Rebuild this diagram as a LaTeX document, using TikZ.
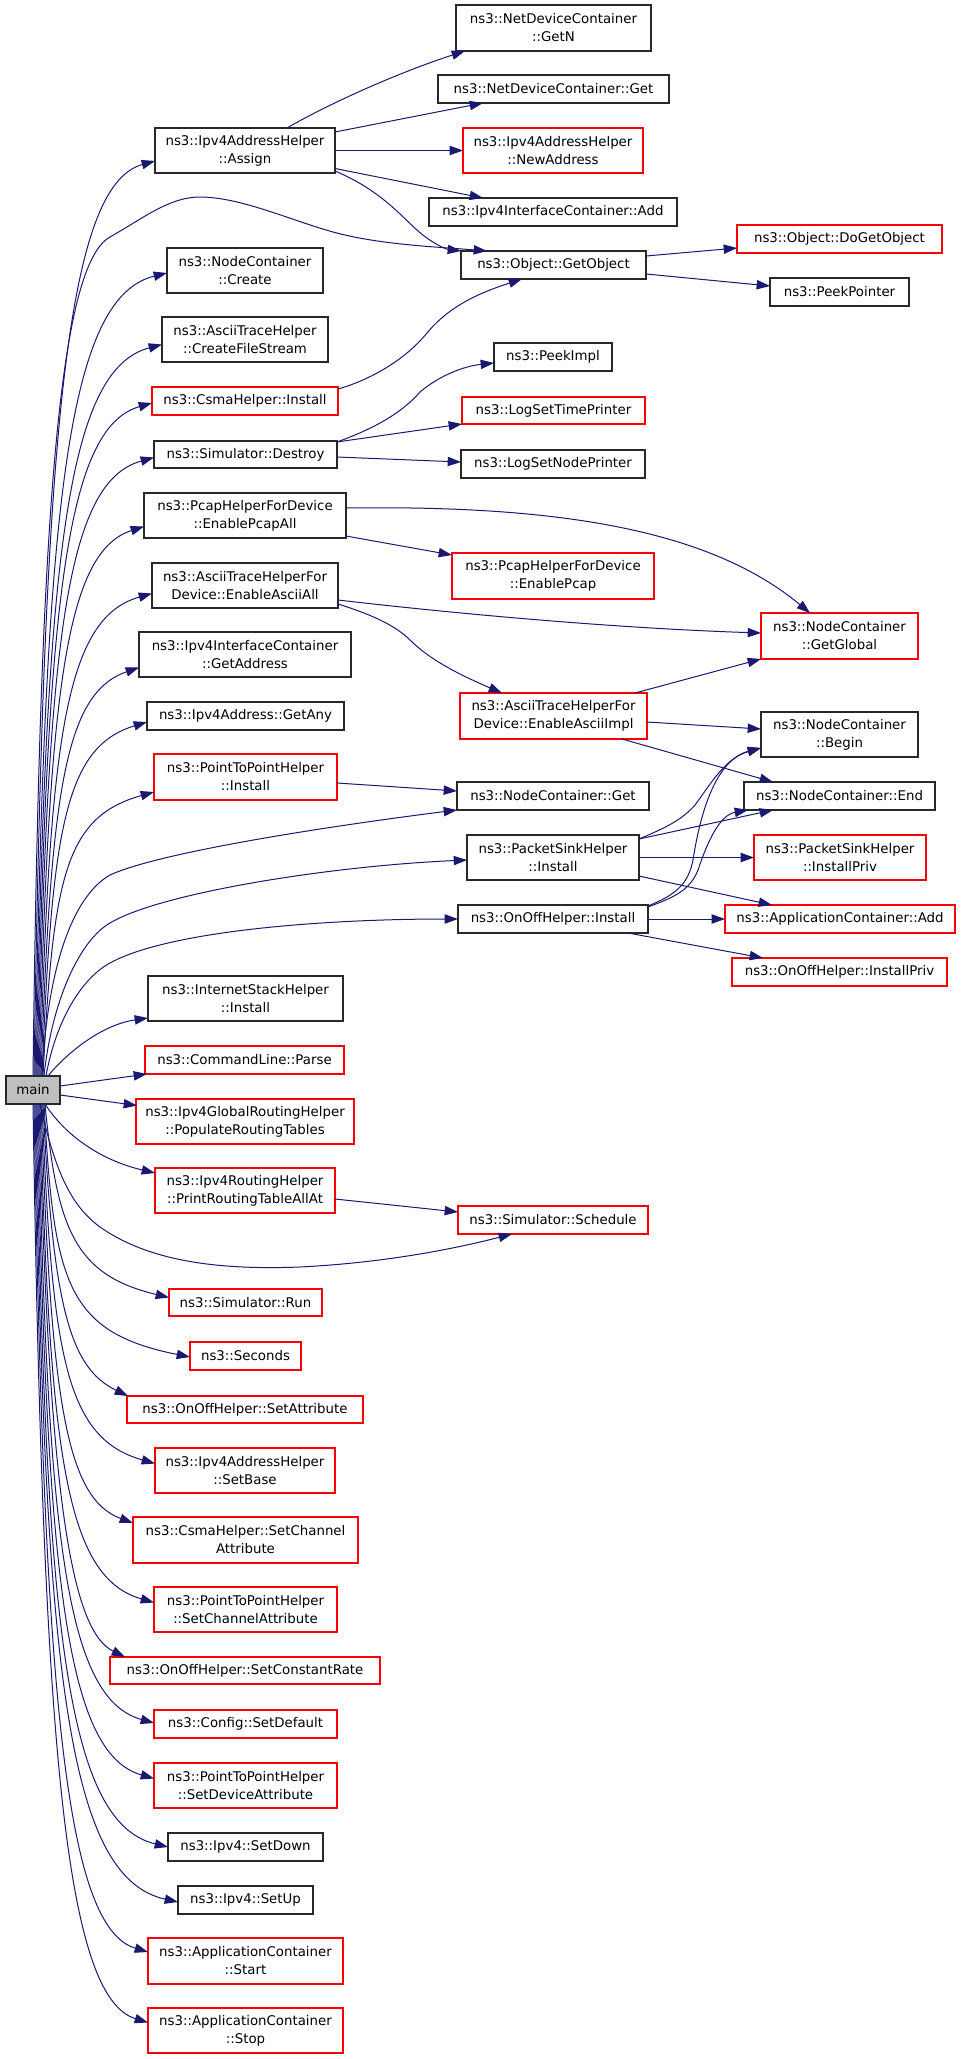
\documentclass[tikz,border=0pt]{standalone}
\usepackage{fontspec}
\setmainfont{DejaVu Sans}
\usetikzlibrary{arrows.meta,calc}
\definecolor{edgeblue}{RGB}{25,25,112}
\definecolor{mainfill}{RGB}{191,191,191}
\definecolor{bordergray}{RGB}{40,40,40}
\newcommand\bx[7]{\node[#6, minimum width={(#4-#2)*0.75pt}, minimum height={(#5-#3)*0.75pt}] (#1) at ({(#2+#4)/2},{(#3+#5)/2}) {#7};}
\tikzset{
  box/.style={draw=bordergray, line width=0.85pt, fill=white, inner sep=0pt, outer sep=0pt, align=center, font=\fontsize{10}{13.5}\selectfont},
  rbox/.style={box, draw=red},
  mbox/.style={box, fill=mainfill},
  edge/.style={draw=edgeblue, line width=0.75pt, -{Triangle[length=10pt,width=7pt]}}
}
\begin{document}
\begin{tikzpicture}[x=0.75pt,y=-0.75pt]
\fill[white] (0,0) rectangle (960,2059);
\useasboundingbox (0,0) rectangle (960,2059);
% nodes
\bx{main}{6}{1076}{60}{1104}{mbox}{main}
\bx{assign}{155}{128}{335}{173}{box}{ns3::Ipv4AddressHelper\\::Assign}
\bx{create}{167}{248}{323}{293}{box}{ns3::NodeContainer\\::Create}
\bx{cfs}{162}{317}{328}{362}{box}{ns3::AsciiTraceHelper\\::CreateFileStream}
\bx{csmainst}{152}{387}{338}{415}{rbox}{ns3::CsmaHelper::Install}
\bx{destroy}{154}{441}{337}{468}{box}{ns3::Simulator::Destroy}
\bx{pcapall}{144}{493}{346}{538}{box}{ns3::PcapHelperForDevice\\::EnablePcapAll}
\bx{asciiall}{152}{563}{338}{608}{box}{ns3::AsciiTraceHelperFor\\Device::EnableAsciiAll}
\bx{getaddr}{139}{632}{351}{677}{box}{ns3::Ipv4InterfaceContainer\\::GetAddress}
\bx{getany}{147}{702}{344}{730}{box}{ns3::Ipv4Address::GetAny}
\bx{p2pinst}{154}{754}{337}{800}{rbox}{ns3::PointToPointHelper\\::Install}
\bx{inetinst}{148}{976}{343}{1021}{box}{ns3::InternetStackHelper\\::Install}
\bx{parse}{145}{1046}{344}{1074}{rbox}{ns3::CommandLine::Parse}
\bx{populate}{136}{1099}{354}{1144}{rbox}{ns3::Ipv4GlobalRoutingHelper\\::PopulateRoutingTables}
\bx{printrt}{155}{1168}{335}{1213}{rbox}{ns3::Ipv4RoutingHelper\\::PrintRoutingTableAllAt}
\bx{run}{169}{1289}{322}{1316}{rbox}{ns3::Simulator::Run}
\bx{seconds}{190}{1342}{301}{1370}{rbox}{ns3::Seconds}
\bx{setattr}{127}{1396}{363}{1423}{rbox}{ns3::OnOffHelper::SetAttribute}
\bx{setbase}{155}{1448}{335}{1493}{rbox}{ns3::Ipv4AddressHelper\\::SetBase}
\bx{csmachan}{133}{1517}{358}{1563}{rbox}{ns3::CsmaHelper::SetChannel\\Attribute}
\bx{p2pchan}{154}{1587}{337}{1632}{rbox}{ns3::PointToPointHelper\\::SetChannelAttribute}
\bx{constrate}{110}{1657}{380}{1684}{rbox}{ns3::OnOffHelper::SetConstantRate}
\bx{setdefault}{154}{1710}{337}{1738}{rbox}{ns3::Config::SetDefault}
\bx{p2pdev}{154}{1763}{337}{1808}{rbox}{ns3::PointToPointHelper\\::SetDeviceAttribute}
\bx{setdown}{168}{1833}{323}{1861}{box}{ns3::Ipv4::SetDown}
\bx{setup}{178}{1886}{313}{1914}{box}{ns3::Ipv4::SetUp}
\bx{start}{148}{1938}{343}{1984}{rbox}{ns3::ApplicationContainer\\::Start}
\bx{stop}{148}{2008}{343}{2053}{rbox}{ns3::ApplicationContainer\\::Stop}
\bx{getn}{456}{5}{651}{51}{box}{ns3::NetDeviceContainer\\::GetN}
\bx{ndget}{438}{75}{669}{103}{box}{ns3::NetDeviceContainer::Get}
\bx{newaddr}{463}{128}{643}{173}{rbox}{ns3::Ipv4AddressHelper\\::NewAddress}
\bx{ifadd}{429}{198}{677}{226}{box}{ns3::Ipv4InterfaceContainer::Add}
\bx{getobj}{461}{251}{646}{279}{box}{ns3::Object::GetObject}
\bx{peekimpl}{494}{343}{612}{371}{box}{ns3::PeekImpl}
\bx{timepr}{462}{397}{645}{424}{rbox}{ns3::LogSetTimePrinter}
\bx{nodepr}{461}{450}{645}{478}{box}{ns3::LogSetNodePrinter}
\bx{pcap}{452}{553}{654}{599}{rbox}{ns3::PcapHelperForDevice\\::EnablePcap}
\bx{asciiimpl}{460}{693}{647}{739}{rbox}{ns3::AsciiTraceHelperFor\\Device::EnableAsciiImpl}
\bx{ncget}{457}{782}{649}{810}{box}{ns3::NodeContainer::Get}
\bx{psinst}{467}{835}{639}{880}{box}{ns3::PacketSinkHelper\\::Install}
\bx{onoffinst}{458}{905}{648}{933}{box}{ns3::OnOffHelper::Install}
\bx{schedule}{458}{1206}{648}{1234}{rbox}{ns3::Simulator::Schedule}
\bx{dogetobj}{737}{225}{942}{253}{rbox}{ns3::Object::DoGetObject}
\bx{peekptr}{770}{278}{909}{306}{box}{ns3::PeekPointer}
\bx{getglobal}{761}{613}{918}{659}{rbox}{ns3::NodeContainer\\::GetGlobal}
\bx{begin}{761}{712}{918}{757}{box}{ns3::NodeContainer\\::Begin}
\bx{ncend}{744}{782}{935}{810}{box}{ns3::NodeContainer::End}
\bx{psinstpriv}{754}{835}{926}{880}{rbox}{ns3::PacketSinkHelper\\::InstallPriv}
\bx{appadd}{725}{905}{955}{933}{rbox}{ns3::ApplicationContainer::Add}
\bx{onoffpriv}{732}{958}{947}{986}{rbox}{ns3::OnOffHelper::InstallPriv}
% main fan, upward
\draw[edge] ($(main.north)+(1,0)$) .. controls (44,435.5) and (65,186) .. ($(assign.west)+(0,10.5)$);
\draw[edge] ($(main.north)+(2,0)$) .. controls (45,514) and (65,298) .. ($(create.west)+(0,2.5)$);
\draw[edge] ($(main.north)+(3,0)$) .. controls (46,564) and (65,370) .. ($(cfs.west)+(0,5)$);
\draw[edge] ($(main.north)+(4,0)$) .. controls (47,605) and (65,428) .. ($(csmainst.west)+(0,2)$);
\draw[edge] ($(main.north)+(5,0)$) .. controls (48,643) and (65,482) .. ($(destroy.west)+(0,3)$);
\draw[edge] ($(main.north)+(6,0)$) .. controls (49,692) and (65,552) .. ($(pcapall.west)+(0,11)$);
\draw[edge] ($(main.north)+(7,0)$) .. controls (50,738) and (65,618) .. ($(asciiall.west)+(0,8)$);
\draw[edge] ($(main.north)+(8,0)$) .. controls (51,790) and (65,693) .. ($(getaddr.west)+(0,13)$);
\draw[edge] ($(main.north)+(9,0)$) .. controls (52,828) and (65,747) .. ($(getany.west)+(0,6)$);
\draw[edge] ($(main.north)+(10,0)$) .. controls (53,877) and (65,817) .. ($(p2pinst.west)+(0,15)$);
\draw[edge] (main.north) .. controls (40,500) and (60,265) .. (110,237) .. controls (145,217) and (170,197) .. (200,197) .. controls (240,197) and (290,220) .. (333,232) .. controls (380,245) and (440,247) .. ($(getobj.north west)+(26,0)$);
\draw[edge] ($(main.north)+(9,0)$) .. controls (48,960) and (75,895) .. (110,875) .. controls (160,852) and (330,826) .. (ncget.south west);
\draw[edge] ($(main.north)+(11,0)$) .. controls (52,1000) and (80,940) .. (110,923) .. controls (160,893) and (330,866) .. ($(psinst.west)+(0,2.5)$);
\draw[edge] ($(main.north)+(13,0)$) .. controls (56,1020) and (82,978) .. (110,963) .. controls (170,930) and (330,919) .. (onoffinst.west);
\draw[edge] ($(main.north)+(15,0)$) .. controls (65,1055) and (100,1025) .. ($(inetinst.west)+(0,19.5)$);
\draw[edge] ($(main.east)+(0,-4)$) -- ($(parse.south west)+(2,0)$);
\draw[edge] ($(main.east)+(0,5)$) -- ($(populate.west)+(1,-16)$);
\draw[edge] ($(main.south)+(12,0)$) .. controls (65,1135) and (100,1160) .. ($(printrt.west)+(0,-17.5)$);
\draw[edge] ($(main.south)+(7,0)$) .. controls (55,1170) and (70,1205) .. (100,1227) .. controls (150,1262) and (220,1270) .. (300,1267) .. controls (380,1263) and (450,1250) .. ($(schedule.south west)+(54,0)$);
% main fan, downward
\draw[edge] ($(main.south)+(12,0)$) .. controls (57,1230) and (75,1275) .. ($(run.west)+(0,-5)$);
\draw[edge] ($(main.south)+(11,0)$) .. controls (54,1281) and (65,1332) .. ($(seconds.west)+(0,1)$);
\draw[edge] ($(main.south)+(10,0)$) .. controls (53,1308) and (70,1368) .. ($(setattr.north west)+(1,0)$);
\draw[edge] ($(main.south)+(9,0)$) .. controls (52,1355) and (65,1438) .. ($(setbase.west)+(0,-7)$);
\draw[edge] ($(main.south)+(8,0)$) .. controls (51,1397) and (65,1498) .. ($(csmachan.west)+(0,-17)$);
\draw[edge] ($(main.south)+(7,0)$) .. controls (50,1453) and (65,1577) .. ($(p2pchan.west)+(0,-7)$);
\draw[edge] ($(main.south)+(6,0)$) .. controls (49,1491) and (70,1630) .. ($(constrate.north west)+(15,0)$);
\draw[edge] ($(main.south)+(5,0)$) .. controls (48,1537) and (65,1698) .. ($(setdefault.west)+(0,-1)$);
\draw[edge] ($(main.south)+(4,0)$) .. controls (47,1576) and (65,1753) .. ($(p2pdev.west)+(0,-7)$);
\draw[edge] ($(main.south)+(3,0)$) .. controls (46,1624) and (65,1822) .. (setdown.west);
\draw[edge] ($(main.south)+(2,0)$) .. controls (45,1663) and (65,1877) .. ($(setup.west)+(0,2)$);
\draw[edge] ($(main.south)+(1,0)$) .. controls (44,1698) and (65,1927) .. ($(start.west)+(0,-9)$);
\draw[edge] (main.south) .. controls (43,1747) and (65,1997) .. ($(stop.west)+(0,-8)$);
% other edges
\draw[edge] ($(assign.north)+(42,0)$) .. controls (330,103) and (400,72) .. ($(getn.south west)+(9,0)$);
\draw[edge] ($(assign.north east)+(0,4)$) -- ($(ndget.south west)+(45,0)$);
\draw[edge] (assign.east) -- (newaddr.west);
\draw[edge] ($(assign.east)+(0,18)$) -- ($(ifadd.north west)+(54,0)$);
\draw[edge] ($(assign.south east)+(0,-2)$) .. controls (380,190) and (400,215) .. (417,230) .. controls (430,242) and (445,249) .. (getobj.north west);
\draw[edge] ($(csmainst.north east)+(0,2)$) .. controls (370,380) and (405,360) .. (427,333) .. controls (450,305) and (482,292) .. ($(getobj.south west)+(61,0)$);
\draw[edge] ($(destroy.north east)+(0,1)$) .. controls (370,430) and (400,415) .. (420,392) .. controls (440,375) and (465,366) .. ($(peekimpl.west)+(0,6)$);
\draw[edge] ($(destroy.north east)+(0,1)$) -- (timepr.south west);
\draw[edge] ($(destroy.east)+(0,2.5)$) -- ($(nodepr.west)+(0,-2)$);
\draw[edge] ($(getobj.east)+(0,-9)$) -- ($(dogetobj.west)+(0,9)$);
\draw[edge] ($(getobj.east)+(0,9)$) -- ($(peekptr.west)+(0,-6)$);
\draw[edge] ($(pcapall.south east)+(0,-2)$) -- ($(pcap.west)+(0,-21)$);
\draw[edge] ($(pcapall.east)+(0,-7.5)$) .. controls (560,505) and (710,530) .. ($(getglobal.north west)+(49,0)$);
\draw[edge] ($(asciiall.east)+(0,14.5)$) .. controls (450,613) and (610,628) .. ($(getglobal.west)+(0,-3)$);
\draw[edge] ($(asciiall.south east)+(0,-4)$) .. controls (370,614) and (395,625) .. (410,640) .. controls (430,660) and (460,675) .. ($(asciiimpl.north west)+(42,0)$);
\draw[edge] ($(asciiimpl.north west)+(175,0)$) -- (getglobal.south west);
\draw[edge] ($(asciiimpl.east)+(0,6)$) -- ($(begin.west)+(0,-5.5)$);
\draw[edge] ($(asciiimpl.south east)+(-25,0)$) -- ($(ncend.north west)+(29,0)$);
\draw[edge] ($(p2pinst.east)+(0,6)$) -- ($(ncget.west)+(0,-5)$);
\draw[edge] ($(psinst.north east)+(0,4)$) .. controls (665,828) and (682,820) .. (695,805) .. controls (710,785) and (725,758) .. ($(begin.south west)+(0,-9)$);
\draw[edge] ($(psinst.north east)+(0,4)$) -- ($(ncend.south west)+(29,0)$);
\draw[edge] (psinst.east) -- (psinstpriv.west);
\draw[edge] ($(psinst.south east)+(0,-4)$) -- ($(appadd.north west)+(47,0)$);
\draw[edge] ($(onoffinst.north east)+(0,1)$) .. controls (675,895) and (688,885) .. (693,860) .. controls (700,815) and (715,760) .. ($(begin.south west)+(0,-9)$);
\draw[edge] ($(onoffinst.north east)+(0,2)$) .. controls (675,897) and (690,890) .. (698,870) .. controls (708,840) and (720,815) .. ($(ncend.south west)+(4,0)$);
\draw[edge] (onoffinst.east) -- (appadd.west);
\draw[edge] ($(onoffinst.south east)+(-20,0)$) -- ($(onoffpriv.north west)+(31,0)$);
\draw[edge] ($(printrt.east)+(0,8.5)$) -- ($(schedule.west)+(0,-8)$);
\end{tikzpicture}
\end{document}
